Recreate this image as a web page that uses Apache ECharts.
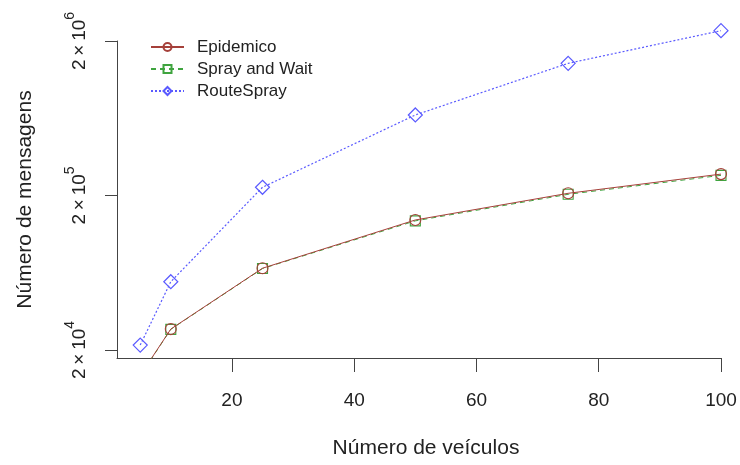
<!DOCTYPE html>
<html>
<head>
<meta charset="utf-8">
<script src="https://cdn.jsdelivr.net/npm/echarts@6/dist/echarts.min.js"></script>
<style>
html,body{margin:0;padding:0;background:#fff;}
#chart{width:740px;height:465px;}
</style>
</head>
<body>
<div id="chart"></div>
<script>
const xValues = [5, 10, 25, 50, 75, 100];
const epidemico = [13700, 27300, 67600, 138800, 206600, 275000];
const sprayAndWait = [13600, 27200, 67300, 137000, 203500, 270000];
const routeSpray = [21500, 55300, 226000, 664000, 1434000, 2332000];
const xTicks = [20, 40, 60, 80, 100];
const yTicks = [20000, 200000, 2000000];
const yTickExp = ['4', '5', '6'];

const font = 'Liberation Sans, Arial, sans-serif';
const pairs = arr => xValues.map((x, i) => [x, arr[i]]);

const chart = echarts.init(document.getElementById('chart'), null, {renderer: 'canvas'});
chart.setOption({
  backgroundColor: '#fff',
  animation: false,
  textStyle: {fontFamily: font},
  grid: {left: 117, right: 19, top: 41, bottom: 107, containLabel: false},
  legend: {
    left: 145, top: 33, orient: 'vertical',
    itemWidth: 33, itemHeight: 10, itemGap: 4,
    textStyle: {fontFamily: font, fontSize: 17, color: '#222', lineHeight: 18, padding: [0, 0, 0, 8]},
    data: ['Epidemico', 'Spray and Wait', 'RouteSpray']
  },
  xAxis: {
    type: 'value', min: 1.2, max: 100,
    name: 'Número de veículos', nameLocation: 'middle', nameGap: 80,
    nameTextStyle: {fontFamily: font, fontSize: 21, color: '#222', padding: [0, 0, 0, 14]},
    axisLine: {show: true, onZero: false, lineStyle: {color: '#444', width: 1}},
    axisTick: {show: true, length: 14, customValues: xTicks, lineStyle: {color: '#444'}},
    axisLabel: {customValues: xTicks, fontFamily: font, fontSize: 19, color: '#222', margin: 33},
    splitLine: {show: false}
  },
  yAxis: {
    type: 'log', logBase: 10, min: 17740, max: 2000000,
    name: 'Número de mensagens', nameLocation: 'middle', nameGap: 81,
    nameTextStyle: {fontFamily: font, fontSize: 21, color: '#222'},
    axisLine: {show: true, lineStyle: {color: '#444', width: 1}},
    axisTick: {show: true, length: 12, customValues: yTicks, lineStyle: {color: '#444'}},
    axisLabel: {
      customValues: yTicks, rotate: 90, margin: 28,
      formatter: function (v) {
        const i = yTicks.findIndex(t => Math.abs(t - v) / t < 1e-6);
        return '{b|2\u2009×\u200910}{s|' + (i >= 0 ? yTickExp[i] : '') + '}';
      },
      rich: {
        b: {fontFamily: font, fontSize: 19, color: '#222', lineHeight: 26, verticalAlign: 'bottom'},
        s: {fontFamily: font, fontSize: 14, color: '#222', lineHeight: 26, verticalAlign: 'top', padding: [0, 0, 10, 0]}
      }
    },
    splitLine: {show: false}
  },
  series: [
    {
      name: 'Epidemico', type: 'line', data: pairs(epidemico), clip: true,
      symbol: 'circle', symbolSize: 11, z: 3,
      lineStyle: {color: '#a5403a', width: 1, type: 'solid'},
      itemStyle: {color: 'rgba(255,255,255,0)', borderColor: '#a5403a', borderWidth: 1.1}
    },
    {
      name: 'Spray and Wait', type: 'line', data: pairs(sprayAndWait), clip: true,
      symbol: 'rect', symbolSize: 10, z: 2,
      lineStyle: {color: '#3fa43f', width: 1, type: [5, 4]},
      itemStyle: {color: 'rgba(255,255,255,0)', borderColor: '#3fa43f', borderWidth: 1.1}
    },
    {
      name: 'RouteSpray', type: 'line', data: pairs(routeSpray), clip: false,
      symbol: 'diamond', symbolSize: 14, z: 2,
      lineStyle: {color: '#5a5aff', width: 1.2, type: [2, 2]},
      itemStyle: {color: 'rgba(255,255,255,0)', borderColor: '#5a5aff', borderWidth: 1.2}
    }
  ]
});
</script>
</body>
</html>
